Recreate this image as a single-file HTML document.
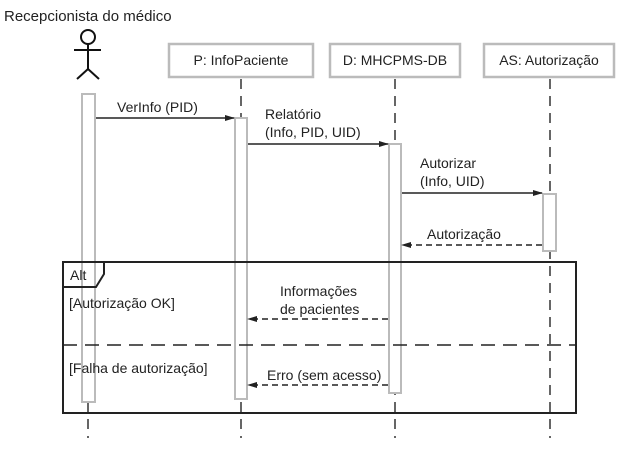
<!DOCTYPE html>
<html><head><meta charset="utf-8"><style>
html,body{margin:0;padding:0;background:#fff;}
svg{display:block;}
text{font-family:"Liberation Sans",sans-serif;font-size:14px;fill:#222;}
</style></head><body>
<svg width="625" height="450" viewBox="0 0 625 450" xmlns="http://www.w3.org/2000/svg">
<defs>
<marker id="a" markerWidth="10" markerHeight="8" refX="9" refY="4" orient="auto" markerUnits="userSpaceOnUse">
<path d="M0,1 L10,4 L0,7 Z" fill="#222"/></marker>
</defs>
<text x="4" y="21" style="font-size:15px">Recepcionista do médico</text>
<g stroke="#111" stroke-width="2" fill="none">
<circle cx="88" cy="37" r="7"/>
<line x1="88" y1="44" x2="88" y2="69"/>
<line x1="74" y1="50" x2="101" y2="50"/>
<line x1="88" y1="69" x2="77" y2="79"/>
<line x1="88" y1="69" x2="99" y2="79"/>
</g>
<g fill="#fff" stroke="#bbb" stroke-width="2.5">
<rect x="169" y="44" width="144" height="33"/>
<rect x="330" y="44" width="130" height="33"/>
<rect x="484" y="44" width="130" height="33"/>
</g>
<text x="241" y="65" text-anchor="middle">P: InfoPaciente</text>
<text x="395" y="65" text-anchor="middle">D: MHCPMS-DB</text>
<text x="549" y="65" text-anchor="middle">AS: Autorização</text>
<g stroke="#333" stroke-width="1.5" stroke-dasharray="10,7">
<line x1="88" y1="402" x2="88" y2="438"/>
<line x1="241" y1="79" x2="241" y2="438"/>
<line x1="395" y1="79" x2="395" y2="438"/>
<line x1="550" y1="79" x2="550" y2="438"/>
</g>
<g fill="#fff" stroke="#bbb" stroke-width="2">
<rect x="82" y="94" width="13" height="308"/>
<rect x="235" y="118" width="12" height="281"/>
<rect x="389" y="144" width="12" height="249"/>
<rect x="543" y="194" width="13" height="57"/>
</g>
<g stroke="#222" stroke-width="1.5" fill="none">
<line x1="96" y1="118" x2="234" y2="118" marker-end="url(#a)"/>
<line x1="248" y1="144" x2="388" y2="144" marker-end="url(#a)"/>
<line x1="402" y1="193" x2="542" y2="193" marker-end="url(#a)"/>
<line x1="542" y1="245" x2="402" y2="245" stroke-dasharray="6,4" marker-end="url(#a)"/>
<line x1="388" y1="319" x2="248" y2="319" stroke-dasharray="6,4" marker-end="url(#a)"/>
<line x1="388" y1="385" x2="248" y2="385" stroke-dasharray="6,4" marker-end="url(#a)"/>
</g>
<text x="117" y="112">VerInfo (PID)</text>
<text x="265" y="119">Relatório</text>
<text x="265" y="137">(Info, PID, UID)</text>
<text x="420" y="168">Autorizar</text>
<text x="420" y="186">(Info, UID)</text>
<text x="427" y="239">Autorização</text>
<text x="280" y="296">Informações</text>
<text x="280" y="314">de pacientes</text>
<text x="267" y="380">Erro (sem acesso)</text>
<rect x="63" y="262" width="513" height="151" fill="none" stroke="#222" stroke-width="2"/>
<path d="M63,262 L104,262 L104,274 L96,287 L63,287" fill="none" stroke="#222" stroke-width="2"/>
<text x="70" y="280">Alt</text>
<line x1="63" y1="345" x2="576" y2="345" stroke="#222" stroke-width="1.5" stroke-dasharray="14,8"/>
<text x="69" y="308">[Autorização OK]</text>
<text x="69" y="373">[Falha de autorização]</text>
</svg>
</body></html>
